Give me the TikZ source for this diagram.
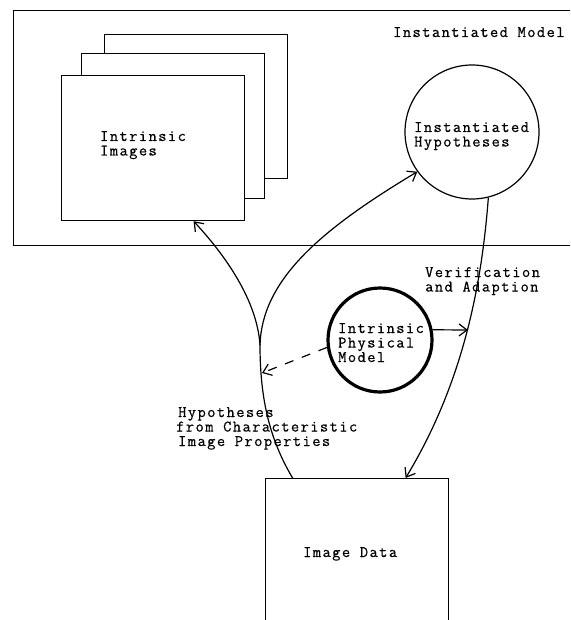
\documentclass[tikz,border=0pt]{standalone}
\usepackage{fontspec}
\newfontfamily\tw[LetterSpace=9,FakeBold=0.6]{Latin Modern Mono}
\usetikzlibrary{arrows.meta,calc}
\begin{document}
\begin{tikzpicture}[x=1pt,y=-1pt,
  thinln/.style={line width=1.2pt},
  box/.style={draw,line width=1.2pt,fill=white,inner sep=0,anchor=north west},
  circ/.style={draw,circle,line width=1.2pt,inner sep=0},
  lbl/.style={inner sep=0,anchor=base west,font=\tw\fontsize{16}{14.5}\selectfont},
  arr/.style={line width=1.2pt,-{Straight Barb[length=8pt,width=12pt,line width=1.2pt]}},
]
\clip (0,0) rectangle (570,620);
\fill[white] (0,0) rectangle (570,620);
% outer frame
\node[box,minimum width=567pt,minimum height=235pt] (im) at (13,10) {};
\node[lbl] (tim) at (393,37) {Instantiated Model};
% stacked intrinsic images
\node[box,minimum width=183pt,minimum height=144pt] (b3) at (104,34) {};
\node[box,minimum width=183pt,minimum height=145pt] (b2) at (81,53) {};
\node[box,minimum width=183pt,minimum height=145pt] (ii) at (61,75) {};
\node[lbl] (tii1) at (100,141) {Intrinsic};
\node[lbl] (tii2) at (100,155.5) {Images};
% instantiated hypotheses
\node[circ,minimum size=134pt] (ih) at (472,132) {};
\node[lbl] (tih1) at (414,132) {Instantiated};
\node[lbl] (tih2) at (414,146.5) {Hypotheses};
% intrinsic physical model
\node[circ,line width=3.2pt,minimum size=104pt] (pm) at (380,340) {};
\node[lbl] (tpm1) at (338,333) {Intrinsic};
\node[lbl] (tpm2) at (338,347.5) {Physical};
\node[lbl] (tpm3) at (338,362) {Model};
% image data
\node[box,minimum width=183pt,minimum height=170pt] (data) at (265,478) {};
\node[lbl] (tdata) at (303,557) {Image Data};
% labels
\node[lbl] (tv1) at (425,277) {Verification};
\node[lbl] (tv2) at (425,291.5) {and Adaption};
\node[lbl] (th1) at (178,417) {Hypotheses};
\node[lbl] (th2) at (176,431.5) {from Characteristic};
\node[lbl] (th3) at (178,446) {Image Properties};
% connectors
\coordinate (jn) at (260,345);
\coordinate (dtip) at (262,373);
\coordinate (vtip) at (468,330);
\draw[thinln] ([xshift=-64.5pt]data.north) .. controls (270,440) and (260,400) .. (jn);
\draw[arr] (jn) .. controls (257,300) and (225,255) .. ([xshift=40.5pt]ii.south);
\draw[arr] (jn) .. controls (262,280) and (320,230) .. (ih.216);
\draw[arr] (ih.-76) .. controls (482,280) and (465,380) .. ([xshift=48.5pt]data.north);
\draw[arr,dash pattern=on 9pt off 9pt] (pm.188) -- (dtip);
\draw[arr] (pm.11) -- (vtip);
\end{tikzpicture}
\end{document}
